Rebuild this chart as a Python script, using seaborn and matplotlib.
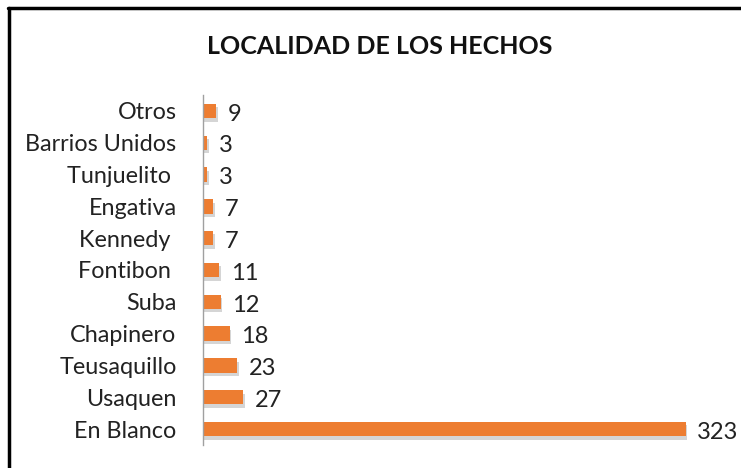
import pandas as pd
import matplotlib.pyplot as plt
import matplotlib.patheffects as pe
from matplotlib.lines import Line2D
import seaborn as sns

localidades = ['Otros', 'Barrios Unidos', 'Tunjuelito ', 'Engativa', 'Kennedy ',
               'Fontibon ', 'Suba', 'Chapinero', 'Teusaquillo', 'Usaquen', 'En Blanco']
casos = [9, 3, 3, 7, 7, 11, 12, 18, 23, 27, 323]

df = pd.DataFrame({'Localidad': localidades, 'Casos': casos})

sns.set_theme(style='white')
plt.rcParams['font.family'] = ['Lato', 'DejaVu Sans']

fig = plt.figure(figsize=(7.41, 4.68), dpi=100)
ax = fig.add_axes([203 / 741, 23 / 468, 517 / 741, 350 / 468])

sns.barplot(data=df, x='Casos', y='Localidad', orient='h', color='#ED7D31',
            saturation=1, width=0.45, linewidth=0, ax=ax)
for bar in ax.patches:
    bar.set_path_effects([pe.SimplePatchShadow(offset=(1, -2.5), alpha=0.22, shadow_rgbFace='#444444'),
                          pe.Normal()])

for i, v in enumerate(casos):
    ax.text(v + 7.5, i + 0.1, str(v), va='center', ha='left', fontsize=17, color='#222222')

ax.set_xlim(0, 346)
ax.set_ylim(10.5, -0.5)
ax.set_xlabel('')
ax.set_ylabel('')
ax.set_xticks([])
ax.tick_params(axis='y', length=0, pad=19, labelsize=16.8, labelcolor='#222222')
for s in ['top', 'right', 'bottom']:
    ax.spines[s].set_visible(False)
ax.spines['left'].set_color('#a0a0a0')
ax.spines['left'].set_linewidth(1)

fig.text(0.513, 0.9, 'LOCALIDAD DE LOS HECHOS', ha='center', va='center',
         fontsize=18, fontweight='bold', color='#111111')

# marco del grafico (solo arriba e izquierda visibles)
fig.add_artist(Line2D([8 / 741, 1], [1 - 8 / 468, 1 - 8 / 468], color='black', lw=2.5,
                      transform=fig.transFigure))
fig.add_artist(Line2D([9 / 741, 9 / 741], [0, 1 - 8 / 468], color='black', lw=2.5,
                      transform=fig.transFigure))

fig.savefig('out.png', dpi=100)
